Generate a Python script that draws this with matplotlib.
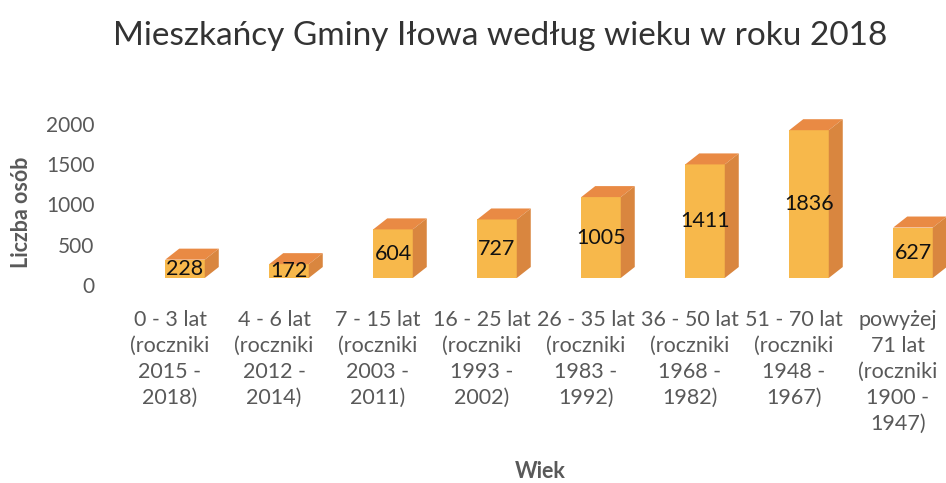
import matplotlib
matplotlib.use("Agg")
import matplotlib.pyplot as plt
import matplotlib.transforms as mtransforms
from matplotlib.patches import Polygon

plt.rcParams['font.family'] = ['Lato', 'DejaVu Sans']

# Data
categories = [
    "0 - 3 lat\n(roczniki\n2015 -\n2018)",
    "4 - 6 lat\n(roczniki\n2012 -\n2014)",
    "7 - 15 lat\n(roczniki\n2003 -\n2011)",
    "16 - 25 lat\n(roczniki\n1993 -\n2002)",
    "26 - 35 lat\n(roczniki\n1983 -\n1992)",
    "36 - 50 lat\n(roczniki\n1968 -\n1982)",
    "51 - 70 lat\n(roczniki\n1948 -\n1967)",
    "powyżej\n71 lat\n(roczniki\n1900 -\n1947)",
]
residents = [228, 172, 604, 727, 1005, 1411, 1836, 627]
yticks = [0, 500, 1000, 1500, 2000]

W, H = 946, 483
fig = plt.figure(figsize=(W / 100, H / 100), dpi=100)

# axes placed in pixels: category 0 at x=170, spacing 104 px; y 0 -> 285 px, 2000 -> 124 px
left_px, right_px = 118, 950
top_px, bot_px = 124, 285
ax = fig.add_axes([left_px / W, 1 - bot_px / H, (right_px - left_px) / W, (bot_px - top_px) / H])
ax.set_xlim(-0.5, len(residents) - 0.5)
ax.set_ylim(0, 2000)

# 3D look: front face shifted a bit, depth drawn to the upper right
shift = mtransforms.ScaledTranslation(15 / 100, 7 / 100, fig.dpi_scale_trans)
tr = ax.transData + shift
px_x = (right_px - left_px) / len(residents)
px_y = (bot_px - top_px) / 2000
dx, dy = 14 / px_x, 11 / px_y
bw = 0.38

front_c, top_c, side_c = "#F7B84B", "#E98A44", "#D9863F"
for i, v in enumerate(residents):
    x0, x1 = i - bw / 2, i + bw / 2
    ax.add_patch(Polygon([(x0, 0), (x1, 0), (x1, v), (x0, v)], closed=True,
                         facecolor=front_c, edgecolor="none", transform=tr, clip_on=False, zorder=3))
    ax.add_patch(Polygon([(x0, v), (x1, v), (x1 + dx, v + dy), (x0 + dx, v + dy)], closed=True,
                         facecolor=top_c, edgecolor="none", transform=tr, clip_on=False, zorder=3))
    ax.add_patch(Polygon([(x1, 0), (x1 + dx, dy), (x1 + dx, v + dy), (x1, v)], closed=True,
                         facecolor=side_c, edgecolor="none", transform=tr, clip_on=False, zorder=3))
    ax.text(i, v / 2, str(v), ha="center", va="center", fontsize=15.5, color="#111111",
            transform=tr, zorder=4)

ax.set_xticks(range(len(categories)))
ax.set_xticklabels(categories, fontsize=15.5, color="#595959", linespacing=1.38)
ax.set_yticks(yticks)
ax.set_yticklabels([str(t) for t in yticks], fontsize=15, color="#595959")
ax.tick_params(axis="x", length=0, pad=18)
ax.tick_params(axis="y", length=0, pad=17)
for s in ax.spines.values():
    s.set_visible(False)
ax.patch.set_alpha(0)

fig.text(500 / W, 1 - 36 / H, "Mieszkańcy Gminy Iłowa według wieku w roku 2018",
         ha="center", va="center", fontsize=24, color="#333333")
fig.text(22 / W, 1 - 212 / H, "Liczba osób", rotation=90, ha="center", va="center",
         fontsize=15.5, fontweight="bold", color="#595959")
fig.text(540 / W, 1 - 471 / H, "Wiek", ha="center", va="center",
         fontsize=15.5, fontweight="bold", color="#595959")

fig.savefig("out.png", dpi=100)
